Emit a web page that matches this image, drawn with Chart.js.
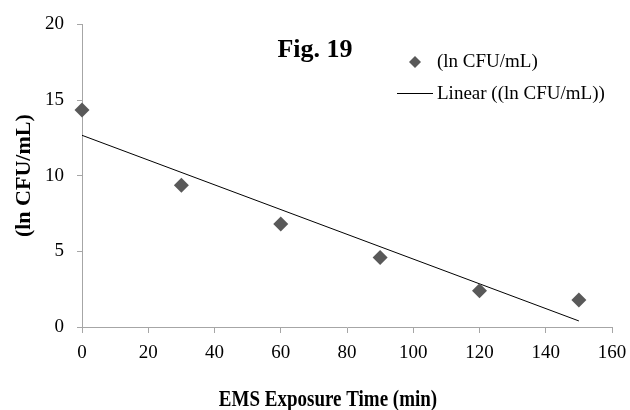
<!doctype html>
<html lang="en">
  <head>
    <meta charset="UTF-8" />
    <title>Fig. 19</title>
    <script src="https://cdn.jsdelivr.net/npm/chart.js"></script>
    <style>
      body { margin: 0; background: white; }
    </style>
  </head>
  <body>
    <canvas id="fig19" width="630" height="410"></canvas>

    <script>
      // exposure times (min) and measured ln CFU/mL
      const times = [0, 30, 60, 90, 120, 150];
      const lnCfu = [14.35, 9.37, 6.8, 4.6, 2.4, 1.78];
      // linear trendline end points
      const trendX = [0, 150];
      const trendY = [12.67, 0.4];
      const seriesName = "(ln CFU/mL)";
      const trendName = "Linear ((ln CFU/mL))";
      const xTitle = "EMS Exposure Time (min)";

      const serif = "'Liberation Serif', 'Times New Roman', serif";
      const axisGray = "#a6a6a6";
      const markerGray = "#595959";

      // title, legend and x title are not where chart.js puts them, so draw by hand
      const figLegend = {
        id: "figLegend",
        afterDraw(chart) {
          const ctx = chart.ctx;
          ctx.save();
          ctx.fillStyle = "#000";
          ctx.font = "bold 26px " + serif;
          ctx.textAlign = "center";
          ctx.textBaseline = "alphabetic";
          ctx.fillText("Fig. 19", 315, 57);

          // x axis title, a bit stretched like the original
          ctx.save();
          ctx.translate(328, 406);
          ctx.scale(1, 1.2);
          ctx.font = "bold 19px " + serif;
          ctx.fillText(xTitle, 0, 0);
          ctx.restore();

          ctx.fillStyle = markerGray;
          ctx.beginPath();
          ctx.moveTo(415, 56);
          ctx.lineTo(421, 62);
          ctx.lineTo(415, 68);
          ctx.lineTo(409, 62);
          ctx.closePath();
          ctx.fill();

          ctx.strokeStyle = "#000";
          ctx.lineWidth = 1;
          ctx.beginPath();
          ctx.moveTo(397, 93.5);
          ctx.lineTo(433, 93.5);
          ctx.stroke();

          ctx.fillStyle = "#000";
          ctx.font = "19px " + serif;
          ctx.textAlign = "left";
          ctx.textBaseline = "middle";
          ctx.fillText(seriesName, 437, 62);
          ctx.fillText(trendName, 437, 94);
          ctx.restore();
        },
      };

      new Chart(document.getElementById("fig19"), {
        type: "scatter",
        data: {
          datasets: [
            {
              label: seriesName,
              data: times.map((t, i) => ({ x: t, y: lnCfu[i] })),
              pointStyle: "rectRot",
              pointRadius: 7.5,
              pointHoverRadius: 7.5,
              backgroundColor: markerGray,
              borderColor: markerGray,
              borderWidth: 0,
              clip: false,
              order: 1,
            },
            {
              type: "line",
              label: trendName,
              data: trendX.map((t, i) => ({ x: t, y: trendY[i] })),
              borderColor: "#000",
              borderWidth: 1,
              pointRadius: 0,
              fill: false,
              order: 2,
            },
          ],
        },
        options: {
          responsive: false,
          animation: false,
          layout: { padding: { left: 7, right: 18, top: 24, bottom: 9 } },
          plugins: {
            legend: { display: false },
            tooltip: { enabled: false },
          },
          scales: {
            x: {
              type: "linear",
              min: 0,
              max: 160,
              afterFit: (s) => {
                s.height = 74;
                s.paddingRight = 0;
                s.paddingLeft = 0;
              },
              ticks: {
                stepSize: 20,
                color: "#000",
                padding: 9,
                maxRotation: 0,
                font: { family: serif, size: 19 },
              },
              grid: { drawOnChartArea: false, drawTicks: true, tickLength: 6, color: axisGray },
              border: { color: axisGray },
              title: { display: false },
            },
            y: {
              type: "linear",
              min: 0,
              max: 20,
              afterFit: (s) => { s.width = 75; },
              ticks: {
                stepSize: 5,
                color: "#000",
                padding: 13,
                font: { family: serif, size: 19 },
              },
              grid: { drawOnChartArea: false, drawTicks: true, tickLength: 5, color: axisGray },
              border: { color: axisGray },
              title: {
                display: true,
                text: "(ln CFU/mL)",
                color: "#000",
                font: { family: serif, size: 22, weight: "bold" },
              },
            },
          },
        },
        plugins: [figLegend],
      });
    </script>
  </body>
</html>
